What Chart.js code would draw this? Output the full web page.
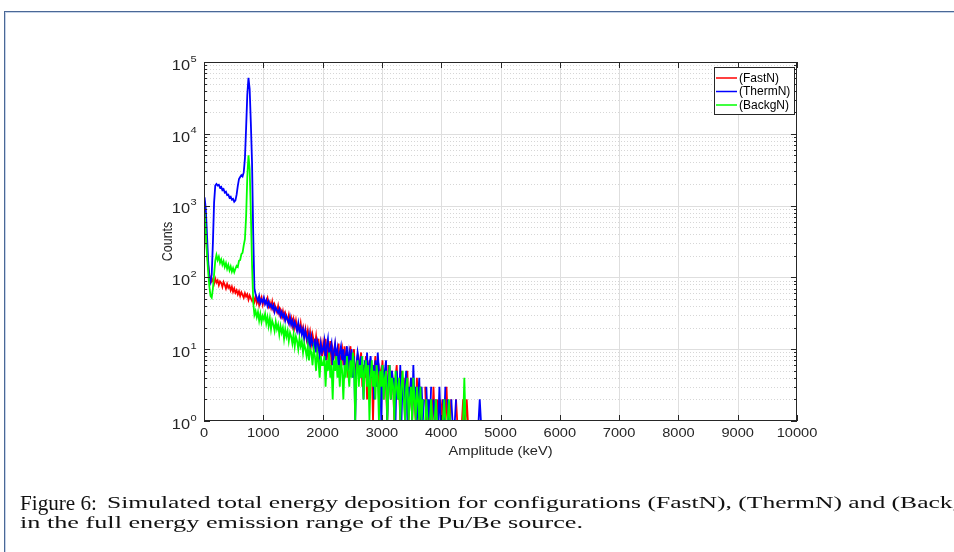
<!DOCTYPE html>
<html>
<head>
<meta charset="utf-8">
<script src="https://cdn.jsdelivr.net/npm/chart.js@4.4.1/dist/chart.umd.min.js"></script>
<style>
  html, body { margin: 0; padding: 0; background: #fff; overflow: hidden; }
  body { width: 954px; height: 552px; position: relative; }
  #frame { position: absolute; left: 4px; top: 11px; width: 1000px; height: 600px;
           border: 1px solid #4a6896; box-shadow: inset 1px 1px 0 #c5d3e8; }
  #plot { position: absolute; left: 0; top: 0; }
  .caption { position: absolute; font-family: "Liberation Serif", "DejaVu Serif", serif;
             font-size: 16px; line-height: 18px; color: #111; white-space: nowrap; transform-origin: 0 0; }
  #capFig { font-size: 21px; line-height: 20px; }
</style>
</head>
<body>
<div id="frame"></div>
<canvas id="plot" width="954" height="552"></canvas>
<div id="capFig" class="caption" style="left: 20px; top: 493px">Figure 6:</div>
<div id="cap1" class="caption" style="left: 107px; top: 494px">Simulated total energy deposition for configurations (FastN), (ThermN) and (BackgN)</div>
<div id="cap2" class="caption" style="left: 20px; top: 514px">in the full energy emission range of the Pu/Be source.</div>
<script>
// histogram bins are 20 keV wide, counts per bin
const binWidth = 20;

const fastN = [
  900, 450, 230, 150, 110, 95, 88, 95, 82, 96,
  85, 91, 78, 88, 84, 74, 86, 79, 70, 81,
  72, 76, 66, 74, 63, 70, 61, 66, 58, 64,
  55, 62, 57, 52, 60, 54, 58, 49, 56, 51,
  47, 52, 46, 55, 44, 50, 41, 48, 53, 42,
  50, 43, 47, 52, 40, 45, 38, 46, 36, 42,
  37, 33, 40, 31, 35, 29, 34, 27, 32, 28,
  25, 30, 23, 27, 21, 26, 20, 25, 19, 22,
  18, 23, 17, 20, 15, 19, 14, 18, 13, 17,
  12, 16, 13, 11, 15, 10, 14, 9, 12, 8,
  12, 9, 14, 7, 11, 10, 13, 6, 10, 8,
  11, 7, 9, 12, 5, 8, 10, 6, 11, 7,
  9, 4, 8, 11, 6, 7, 10, 3, 6, 8,
  5, 7, 9, 3, 6, 4, 8, 2, 5, 7,
  4, 6, 1, 5, 8, 3, 6, 2, 5, 4,
  7, 2, 5, 3, 1, 6, 4, 2, 5, 3,
  1, 4, 6, 2, 3, 1, 5, 2, 4, 1,
  3, 5, 1, 2, 4, 1, 3, 2, 1, 4,
  2, 1, 3, 1, 2, 0, 3, 1, 2, 1,
  0, 2, 1, 3, 1, 0, 2, 1, 0, 2,
  1, 2, 0, 1, 3, 1, 0, 1, 2, 0,
  1, 0, 2, 1, 0, 1, 0, 1, 2, 1,
  1, 2, 1, 0
];

const thermN = [
  1300, 900, 400, 170, 95, 85, 110, 300, 1100, 1900,
  2000, 1900, 1950, 1780, 1820, 1640, 1700, 1520, 1560, 1400,
  1420, 1290, 1330, 1210, 1240, 1130, 1180, 1420, 1880, 2350,
  2500, 2650, 2550, 2900, 4500, 12000, 35000, 60000, 42000, 14000,
  4000, 400, 70, 58, 52, 47, 55, 44, 49, 45,
  52, 43, 48, 40, 46, 39, 42, 37, 41, 33,
  38, 35, 32, 36, 29, 33, 28, 31, 25, 29,
  26, 23, 28, 22, 25, 20, 24, 21, 18, 23,
  17, 20, 16, 19, 14, 18, 15, 12, 16, 11,
  15, 12, 10, 14, 9, 13, 11, 8, 12, 9,
  10, 13, 7, 11, 14, 8, 10, 12, 6, 9,
  12, 8, 10, 5, 9, 11, 7, 10, 6, 8,
  11, 5, 9, 7, 10, 4, 8, 1, 6, 9,
  7, 4, 8, 6, 2, 7, 5, 9, 3, 6,
  8, 4, 6, 2, 7, 3, 9, 5, 4, 1,
  6, 3, 5, 7, 1, 4, 6, 2, 5, 3,
  4, 1, 5, 3, 2, 6, 1, 4, 2, 3,
  5, 1, 3, 2, 4, 1, 6, 2, 3, 1,
  2, 4, 1, 3, 1, 2, 0, 3, 1, 2,
  1, 3, 0, 2, 1, 2, 0, 1, 3, 1,
  0, 2, 1, 3, 0, 2, 1, 0, 2, 1,
  0, 1, 2, 0, 1, 0, 0, 1, 0, 0,
  1, 0, 0, 0, 0, 0, 0, 0, 0, 0,
  0, 1, 2, 1
];

const backgN = [
  800, 420, 210, 120, 75, 55, 52, 70, 110, 170,
  205, 175, 195, 160, 178, 150, 168, 140, 158, 132,
  150, 126, 142, 120, 135, 118, 132, 145, 140, 170,
  175, 210, 220, 280, 340, 700, 2500, 5000, 3200, 800,
  150, 45, 30, 34, 28, 33, 25, 31, 24, 29,
  26, 31, 23, 28, 21, 27, 19, 25, 22, 18,
  24, 19, 22, 16, 21, 17, 20, 14, 19, 15,
  18, 13, 17, 15, 12, 16, 11, 15, 13, 10,
  14, 11, 13, 9, 12, 10, 8, 11, 7, 10,
  9, 6, 10, 8, 5, 9, 7, 4, 8, 6,
  6, 8, 3, 7, 5, 9, 4, 6, 2, 7,
  5, 8, 4, 6, 3, 7, 5, 2, 6, 4,
  8, 5, 3, 7, 4, 9, 6, 1, 5, 7,
  3, 6, 4, 8, 2, 5, 7, 3, 6, 1,
  4, 7, 3, 5, 2, 6, 4, 1, 5, 3,
  6, 2, 4, 5, 1, 3, 6, 2, 4, 3,
  1, 5, 3, 2, 4, 1, 3, 5, 2, 1,
  3, 4, 1, 2, 3, 1, 4, 2, 1, 3,
  2, 1, 3, 1, 2, 0, 1, 2, 1, 0,
  1, 2, 1, 0, 1, 2, 1, 0, 1, 1,
  0, 1, 2, 1, 0, 1, 2, 1, 0, 0,
  1, 0, 0, 0, 0, 0, 0, 0, 1, 4,
  1, 0
];

const seriesNames = ['(FastN)', '(ThermN)', '(BackgN)'];
const seriesColors = ['#ff0000', '#0000ff', '#00ff00'];
const xTicks = [0, 1000, 2000, 3000, 4000, 5000, 6000, 7000, 8000, 9000, 10000];
const yExponents = [0, 1, 2, 3, 4, 5];

const sans = '"Liberation Sans", Arial, sans-serif';
const ink = '#262626';
const wide = 1.17; // axis text is set slightly wide

// empty bins have no place on a log axis, leave a gap there
function toPoints(counts) {
  return counts.map((c, i) => ({ x: i * binWidth + binWidth / 2, y: c > 0 ? c : null }));
}

function hline(ctx, x0, x1, y) {
  ctx.beginPath(); ctx.moveTo(x0, y); ctx.lineTo(x1, y); ctx.stroke();
}
function vline(ctx, x, y0, y1) {
  ctx.beginPath(); ctx.moveTo(x, y0); ctx.lineTo(x, y1); ctx.stroke();
}
function wideText(ctx, text, x, y, angle) {
  ctx.save();
  ctx.translate(x, y);
  if (angle) ctx.rotate(angle);
  if (angle) ctx.scale(1, wide); else ctx.scale(wide, 1);
  ctx.fillText(text, 0, 0);
  ctx.restore();
}

const axesDecor = {
  id: 'axesDecor',
  beforeDatasetsDraw(chart) {
    const { ctx, chartArea: a, scales: { x, y } } = chart;
    ctx.save();
    ctx.lineWidth = 1;
    // dotted minor grid on the log axis
    ctx.strokeStyle = '#d6d6d6';
    ctx.setLineDash([1, 2]);
    for (let e = 0; e < 5; e++) {
      for (let k = 2; k <= 9; k++) {
        const py = Math.round(y.getPixelForValue(k * Math.pow(10, e))) + 0.5;
        hline(ctx, a.left, a.right, py);
      }
    }
    ctx.setLineDash([]);
    ctx.strokeStyle = '#dedede';
    xTicks.slice(1, -1).forEach(v => {
      vline(ctx, Math.round(x.getPixelForValue(v)) + 0.5, a.top, a.bottom);
    });
    yExponents.slice(1, -1).forEach(e => {
      hline(ctx, a.left, a.right, Math.round(y.getPixelForValue(Math.pow(10, e))) + 0.5);
    });
    ctx.restore();
  },
  afterDatasetsDraw(chart) {
    const { ctx, chartArea: a, scales: { x, y } } = chart;
    ctx.save();
    ctx.strokeStyle = ink;
    ctx.lineWidth = 1;
    ctx.strokeRect(a.left + 0.5, a.top + 0.5, a.right - a.left - 1, a.bottom - a.top - 1);

    // inward ticks
    xTicks.forEach(v => {
      const px = Math.round(x.getPixelForValue(v)) + 0.5;
      vline(ctx, px, a.bottom, a.bottom - 6);
      vline(ctx, px, a.top, a.top + 6);
    });
    for (let e = 0; e <= 5; e++) {
      const py = Math.round(y.getPixelForValue(Math.pow(10, e))) + 0.5;
      hline(ctx, a.left, a.left + 6, py);
      hline(ctx, a.right, a.right - 6, py);
      if (e === 5) break;
      for (let k = 2; k <= 9; k++) {
        const pm = Math.round(y.getPixelForValue(k * Math.pow(10, e))) + 0.5;
        hline(ctx, a.left, a.left + 3, pm);
        hline(ctx, a.right, a.right - 3, pm);
      }
    }

    // tick labels
    ctx.fillStyle = ink;
    ctx.font = '12.5px ' + sans;
    ctx.textAlign = 'center';
    ctx.textBaseline = 'middle';
    xTicks.forEach(v => wideText(ctx, String(v), x.getPixelForValue(v), a.bottom + 13));

    yExponents.forEach(e => {
      const py = y.getPixelForValue(Math.pow(10, e));
      ctx.font = '14px ' + sans;
      ctx.textAlign = 'right';
      wideText(ctx, '10', a.left - 14, py + 4);
      ctx.font = '9.5px ' + sans;
      ctx.textAlign = 'left';
      wideText(ctx, String(e), a.left - 13.5, py - 3);
    });

    // axis titles
    ctx.font = '12.5px ' + sans;
    ctx.textAlign = 'center';
    wideText(ctx, 'Amplitude (keV)', (a.left + a.right) / 2, a.bottom + 31);
    wideText(ctx, 'Counts', a.left - 36, (a.top + a.bottom) / 2, -Math.PI / 2);

    // legend box in the upper right corner
    const lw = 81, lh = 48;
    const lx = a.right - 2 - lw, ly = a.top + 5;
    ctx.fillStyle = '#fff';
    ctx.fillRect(lx, ly, lw, lh);
    ctx.strokeStyle = ink;
    ctx.strokeRect(lx + 0.5, ly + 0.5, lw - 1, lh - 1);
    ctx.font = '12px ' + sans;
    ctx.textAlign = 'left';
    seriesNames.forEach((name, i) => {
      const ry = ly + 11 + i * 13.5;
      ctx.strokeStyle = seriesColors[i];
      ctx.lineWidth = 1.5;
      hline(ctx, lx + 2, lx + 23, ry);
      ctx.fillStyle = '#000';
      ctx.fillText(name, lx + 25, ry + 0.5);
    });
    ctx.restore();
  }
};

const seriesCounts = [fastN, thermN, backgN];

new Chart(document.getElementById('plot'), {
  type: 'line',
  data: {
    datasets: seriesNames.map((name, i) => ({
      label: name,
      data: toPoints(seriesCounts[i]),
      borderColor: seriesColors[i],
      borderWidth: 1.8,
      pointRadius: 0,
      tension: 0,
      spanGaps: false,
      order: 3 - i,
    })),
  },
  options: {
    responsive: false,
    animation: false,
    events: [],
    layout: { padding: { left: 204, top: 62, right: 157, bottom: 131 } },
    scales: {
      x: { type: 'linear', min: 0, max: 10000, display: false },
      y: { type: 'logarithmic', min: 1, max: 100000, display: false },
    },
    plugins: { legend: { display: false }, tooltip: { enabled: false } },
  },
  plugins: [axesDecor],
});

// caption runs wide: "Figure 6:" fits its slot, body lines fit the text column
const capFig = document.getElementById('capFig');
const cap1 = document.getElementById('cap1');
const cap2 = document.getElementById('cap2');
const bodyStretch = 563 / cap2.getBoundingClientRect().width;
const figStretch = 77 / capFig.getBoundingClientRect().width;
capFig.style.transform = 'scaleX(' + figStretch + ')';
cap1.style.transform = 'scaleX(' + (bodyStretch * 0.975) + ')';
cap2.style.transform = 'scaleX(' + bodyStretch + ')';
</script>
</body>
</html>
